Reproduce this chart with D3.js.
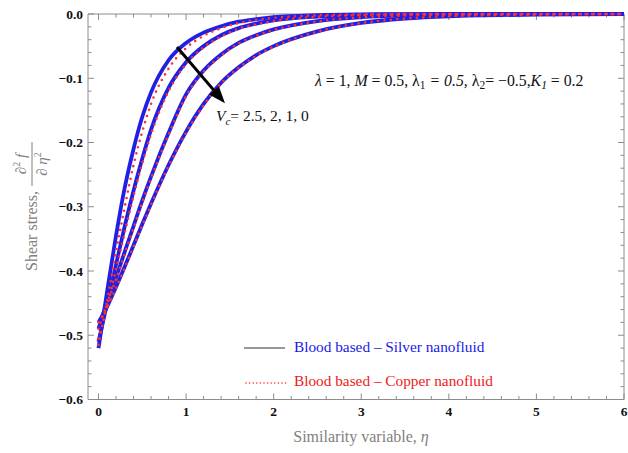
<!DOCTYPE html>
<html><head><meta charset="utf-8">
<script src="https://cdn.jsdelivr.net/npm/d3@7"></script>
<style>
html,body{margin:0;padding:0;background:#fff;}
svg{display:block;font-family:"Liberation Serif","Times New Roman",serif;}
</style></head>
<body>
<svg id="c" width="628" height="453"></svg>
<script>
// ---- data ----
const eta = [0,0.1,0.2,0.3,0.4,0.5,0.6,0.8,1.0,1.2,1.4,1.6,1.8,2.0,2.5,3.0,3.5,4.0,5.0,6.0];
const vcLabels = ["2.5","2","1","0"];
// Blood based - Silver nanofluid (solid blue)
const silverVc25 = [-0.52,-0.43,-0.345,-0.27,-0.21,-0.16,-0.122,-0.072,-0.045,-0.029,-0.019,-0.012,-0.008,-0.005,-0.0018,-0.0006,-0.0002,0,0,0];
const silverVc2  = [-0.51,-0.45,-0.39,-0.33,-0.275,-0.225,-0.18,-0.115,-0.075,-0.05,-0.033,-0.022,-0.015,-0.010,-0.004,-0.0015,-0.0006,-0.0002,0,0];
const silverVc1  = [-0.49,-0.447,-0.41,-0.37,-0.33,-0.29,-0.253,-0.185,-0.125,-0.088,-0.063,-0.045,-0.033,-0.024,-0.011,-0.005,-0.0022,-0.001,-0.0002,0];
const silverVc0  = [-0.48,-0.455,-0.425,-0.393,-0.36,-0.327,-0.295,-0.235,-0.183,-0.14,-0.107,-0.083,-0.064,-0.05,-0.027,-0.014,-0.007,-0.0035,-0.001,-0.0002];
// Blood based - Copper nanofluid (red dotted)
const copperVc25 = [-0.515,-0.445,-0.37,-0.30,-0.235,-0.183,-0.14,-0.085,-0.053,-0.034,-0.022,-0.014,-0.009,-0.006,-0.002,-0.0007,-0.0002,0,0,0];
const copperVc2  = [-0.505,-0.455,-0.398,-0.34,-0.283,-0.232,-0.187,-0.12,-0.078,-0.052,-0.035,-0.023,-0.016,-0.011,-0.0043,-0.0016,-0.0006,-0.0002,0,0];
const copperVc1  = [-0.49,-0.449,-0.413,-0.373,-0.333,-0.293,-0.256,-0.188,-0.128,-0.09,-0.065,-0.046,-0.034,-0.025,-0.0115,-0.0052,-0.0023,-0.001,-0.0002,0];
const copperVc0  = [-0.48,-0.456,-0.427,-0.395,-0.362,-0.329,-0.297,-0.237,-0.185,-0.142,-0.108,-0.084,-0.065,-0.051,-0.0275,-0.0142,-0.0071,-0.0036,-0.001,-0.0002];
const xTicks = [0,1,2,3,4,5,6];
const yTicks = [0,-0.1,-0.2,-0.3,-0.4,-0.5,-0.6];
const yTickLabels = ["0.0","\u22120.1","\u22120.2","\u22120.3","\u22120.4","\u22120.5","\u22120.6"];

// ---- layout ----
const svg = d3.select("#c");
const L = 98.5, R = 624, T = 14, B = 399.5;
const x = d3.scaleLinear().domain([0,6]).range([L,R]);
const y = d3.scaleLinear().domain([-0.6,0]).range([B,T]);
const frameX0 = 88;
const axisCol = "#8c8c8c";

// frame
const fr = svg.append("g").attr("stroke",axisCol).attr("stroke-width",1).attr("fill","none");
fr.append("path").attr("d",`M${frameX0},${T}H${R}V${B}H${frameX0}Z`);

// x ticks (bottom & top, inward)
const xMinor = d3.range(0,6.0001,0.2);
xMinor.forEach(v=>{
  const major = Math.abs(v-Math.round(v))<1e-6;
  const len = major?6:3.5;
  fr.append("line").attr("x1",x(v)).attr("x2",x(v)).attr("y1",B).attr("y2",B-len);
  fr.append("line").attr("x1",x(v)).attr("x2",x(v)).attr("y1",T).attr("y2",T+len);
});
const yMinor = d3.range(0,31).map(i=>-i*0.02);
yMinor.forEach((v,i)=>{
  const major = i%5===0;
  const len = major?6:3.5;
  fr.append("line").attr("x1",frameX0).attr("x2",frameX0+len).attr("y1",y(v)).attr("y2",y(v));
  fr.append("line").attr("x1",R).attr("x2",R-len).attr("y1",y(v)).attr("y2",y(v));
});

// tick labels
svg.append("g").selectAll("text").data(xTicks).join("text")
  .attr("x",d=>x(d)).attr("y",416).attr("text-anchor","middle")
  .attr("font-weight","bold").attr("font-size",13.5).attr("fill","#111").text(d=>d);
svg.append("g").selectAll("text").data(yTicks).join("text")
  .attr("x",83).attr("y",d=>y(d)+4.5).attr("text-anchor","end")
  .attr("font-weight","bold").attr("font-size",13.5).attr("fill","#111")
  .text((d,i)=>yTickLabels[i]);

// curves
const line = d3.line().x(d=>x(d[0])).y(d=>y(d[1])).curve(d3.curveMonotoneX);
const silver = [silverVc25,silverVc2,silverVc1,silverVc0];
const copper = [copperVc25,copperVc2,copperVc1,copperVc0];
const plot = svg.append("g");
silver.forEach(s=>{
  plot.append("path").attr("d",line(eta.map((e,i)=>[e,s[i]])))
    .attr("fill","none").attr("stroke","#1f1fe6").attr("stroke-width",3.8);
});
copper.forEach(s=>{
  plot.append("path").attr("d",line(eta.map((e,i)=>[e,s[i]])))
    .attr("fill","none").attr("stroke","#ff3030").attr("stroke-width",2.6)
    .attr("stroke-dasharray","0 6.5").attr("stroke-linecap","round");
});

// arrow
const a0 = [0.896,-0.0513], a1 = [1.444,-0.139];
const ax0=x(a0[0]), ay0=y(a0[1]), ax1=x(a1[0]), ay1=y(a1[1]);
const ang = Math.atan2(ay1-ay0, ax1-ax0);
const hl = 17, hw = 6.5;
const bx = ax1 - hl*Math.cos(ang), by = ay1 - hl*Math.sin(ang);
svg.append("line").attr("x1",ax0).attr("y1",ay0).attr("x2",bx).attr("y2",by)
  .attr("stroke","#000").attr("stroke-width",3);
svg.append("path").attr("d",`M${ax1},${ay1}L${bx - hw*Math.sin(ang)},${by + hw*Math.cos(ang)}L${bx + hw*Math.sin(ang)},${by - hw*Math.cos(ang)}Z`).attr("fill","#000");

// Vc label
const vt = svg.append("text").attr("x",216).attr("y",121).attr("font-size",15.5).attr("fill","#111");
vt.append("tspan").attr("font-style","italic").text("V");
vt.append("tspan").attr("font-style","italic").attr("font-size",11).attr("dy",4).text("c");
vt.append("tspan").attr("dy",-4).text("= " + vcLabels.join(", "));

// parameter text
const pt = svg.append("text").attr("x",315).attr("y",86).attr("font-size",15.8).attr("fill","#111");
pt.append("tspan").attr("font-style","italic").text("\u03bb");
pt.append("tspan").text(" = 1, ");
pt.append("tspan").attr("font-style","italic").text("M");
pt.append("tspan").text(" = 0.5, \u03bb");
pt.append("tspan").attr("font-size",11.5).attr("dy",3).text("1");
pt.append("tspan").attr("dy",-3).attr("font-style","italic").text(" = 0.5, ");
pt.append("tspan").text("\u03bb");
pt.append("tspan").attr("font-size",11.5).attr("dy",3).text("2");
pt.append("tspan").attr("dy",-3).text("= \u22120.5,");
pt.append("tspan").attr("font-style","italic").text("K");
pt.append("tspan").attr("font-style","italic").attr("font-size",11.5).attr("dy",3).text("1");
pt.append("tspan").attr("dy",-3).text(" = 0.2");

// legend
svg.append("line").attr("x1",244).attr("x2",285).attr("y1",348).attr("y2",348)
  .attr("stroke","#333").attr("stroke-width",1.2);
svg.append("text").attr("x",294).attr("y",352).attr("font-size",15.3).attr("fill","#1a1ae6")
  .text("Blood based \u2013 Silver nanofluid");
svg.append("line").attr("x1",246).attr("x2",289).attr("y1",383).attr("y2",383)
  .attr("stroke","#ff2a2a").attr("stroke-width",1.6).attr("stroke-dasharray","0 3.6").attr("stroke-linecap","round");
svg.append("text").attr("x",294).attr("y",386).attr("font-size",15.3).attr("fill","#ee1a1a")
  .text("Blood based \u2013 Copper nanofluid");

// x title
const xt = svg.append("text").attr("x",361).attr("y",442).attr("text-anchor","middle")
  .attr("font-size",16).attr("fill","#808080");
xt.append("tspan").text("Similarity variable, ");
xt.append("tspan").attr("font-style","italic").text("\u03b7");

// y title (rotated) with fraction
const yg = svg.append("g").attr("transform","translate(32,205) rotate(-90)").attr("fill","#808080");
const ys = yg.append("text").attr("x",-66).attr("y",5).attr("font-size",16).text("Shear stress,");
const w = ys.node().getComputedTextLength();
const fx = -66 + w + 5;
const num = yg.append("text").attr("x",fx+22).attr("y",-6).attr("text-anchor","middle").attr("font-size",15);
num.append("tspan").text("\u2202");
num.append("tspan").attr("font-size",10).attr("dy",-6).text("2");
num.append("tspan").attr("dy",6).attr("font-style","italic").text(" f");
yg.append("line").attr("x1",fx).attr("x2",fx+44).attr("y1",0).attr("y2",0).attr("stroke","#808080").attr("stroke-width",1);
const den = yg.append("text").attr("x",fx+22).attr("y",15).attr("text-anchor","middle").attr("font-size",15);
den.append("tspan").text("\u2202 ");
den.append("tspan").attr("font-style","italic").text("\u03b7");
den.append("tspan").attr("font-size",10).attr("dy",-6).text("2");
</script>
</body></html>
